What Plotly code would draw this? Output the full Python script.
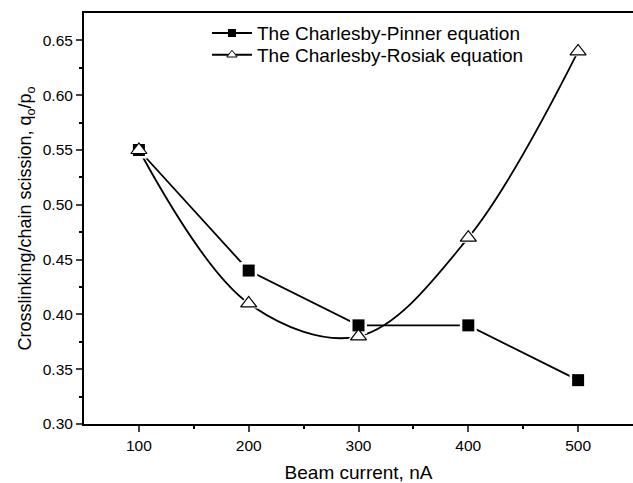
import plotly.graph_objects as go

x_vals = [100, 200, 300, 400, 500]
pinner = [0.55, 0.44, 0.39, 0.39, 0.34]
rosiak = [0.55, 0.41, 0.38, 0.47, 0.64]
name_pinner = "The Charlesby-Pinner equation"
name_rosiak = "The Charlesby-Rosiak equation"
x_title = "Beam current, nA"
y_title = "Crosslinking/chain scission, q<sub>o</sub>/p<sub>o</sub>"

FONT = "Arial, Liberation Sans, sans-serif"

fig = go.Figure()
# lines (with legend symbols)
fig.add_trace(go.Scatter(x=x_vals, y=pinner, mode="lines+markers", name=name_pinner,
                         legend="legend",
                         line=dict(color="black", width=1.8, shape="linear"),
                         marker=dict(symbol="square", size=8, color="black")))
fig.add_trace(go.Scatter(x=x_vals, y=rosiak, mode="lines+markers", name=name_rosiak,
                         legend="legend2",
                         line=dict(color="black", width=1.8, shape="spline", smoothing=1),
                         marker=dict(symbol="triangle-up", size=9, color="white",
                                     line=dict(color="black", width=1))))
# white halos creating gaps around markers
fig.add_trace(go.Scatter(x=x_vals, y=pinner, mode="markers", showlegend=False, hoverinfo="skip",
                         marker=dict(symbol="square", size=17, color="white")))
fig.add_trace(go.Scatter(x=x_vals, y=rosiak, mode="markers", showlegend=False, hoverinfo="skip",
                         marker=dict(symbol="triangle-up", size=20, color="white")))
# visible markers
fig.add_trace(go.Scatter(x=x_vals, y=pinner, mode="markers", showlegend=False,
                         marker=dict(symbol="square", size=12, color="black")))
fig.add_trace(go.Scatter(x=x_vals, y=rosiak, mode="markers", showlegend=False,
                         marker=dict(symbol="triangle-up", size=14, color="white",
                                     line=dict(color="black", width=1.2))))

leg_common = dict(xanchor="left", yanchor="middle", bgcolor="rgba(0,0,0,0)",
                  font=dict(size=19, family=FONT), itemwidth=40)

fig.update_layout(
    width=633, height=483,
    margin=dict(l=84, r=0, t=13, b=59, autoexpand=False),
    paper_bgcolor="white", plot_bgcolor="white",
    font=dict(family=FONT, color="black"),
    showlegend=True,
    legend=dict(x=0.224, y=0.951, **leg_common),
    legend2=dict(x=0.224, y=0.898, **leg_common),
    xaxis=dict(range=[50, 550], tickvals=x_vals, ticks="outside", ticklen=6, tickwidth=1.5,
               showline=True, linecolor="black", linewidth=2, mirror=True,
               showgrid=False, zeroline=False, automargin=False,
               tickfont=dict(size=15.5, family=FONT),
               minor=dict(tickvals=[150, 250, 350, 450], ticks="outside", ticklen=3,
                          tickwidth=1.5, tickcolor="black"),
               title=dict(text=x_title, font=dict(size=19, family=FONT), standoff=13)),
    yaxis=dict(range=[0.30, 0.675], tickvals=[0.30, 0.35, 0.40, 0.45, 0.50, 0.55, 0.60, 0.65],
               tickformat=".2f", ticks="outside", ticklen=6, tickwidth=1.5,
               showline=True, linecolor="black", linewidth=2,
               showgrid=False, zeroline=False, automargin=False,
               tickfont=dict(size=15.5, family=FONT),
               minor=dict(tickvals=[0.325, 0.375, 0.425, 0.475, 0.525, 0.575, 0.625],
                          ticks="outside", ticklen=3, tickwidth=1.5, tickcolor="black"),
               title=dict(text=y_title, font=dict(size=18, family=FONT), standoff=6)),
)

fig.write_html("out.html", config={"displayModeBar": False},
               post_script="document.body.style.margin='0';document.body.style.overflow='hidden';")
